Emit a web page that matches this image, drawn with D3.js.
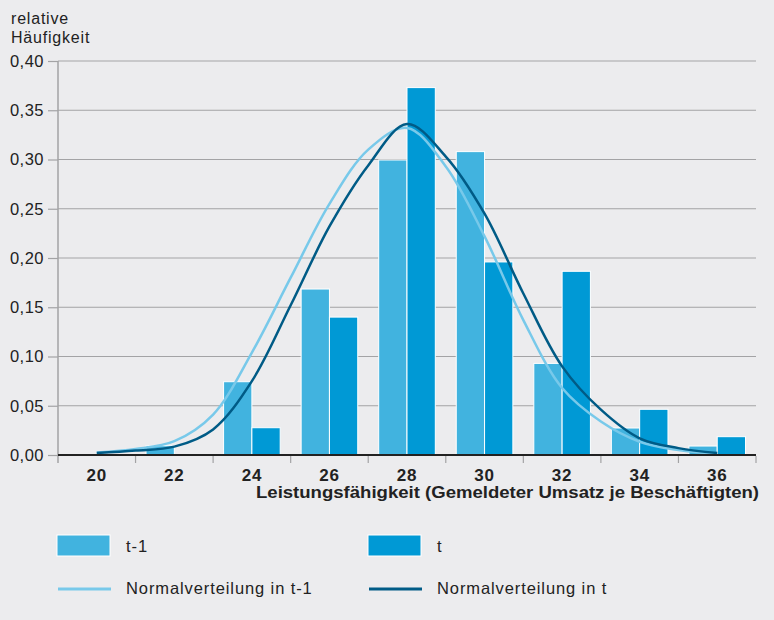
<!DOCTYPE html>
<html><head><meta charset="utf-8">
<script src="https://cdn.jsdelivr.net/npm/d3@7"></script>
<style>
html,body{margin:0;padding:0;background:#ececee;}
svg{display:block;font-family:"Liberation Sans",Arial,Helvetica,sans-serif;}
</style></head>
<body>
<svg id="c" width="774" height="620"></svg>
<script>
const categories = ["20","22","24","26","28","30","32","34","36"];
const seriesNames = ["t-1","t"];
const valuesPrev = [0, 0.0094, 0.0744, 0.1685, 0.2995, 0.308, 0.093, 0.0274, 0.0091];
const valuesCurr = [0, 0, 0.0277, 0.140, 0.373, 0.196, 0.1865, 0.0464, 0.0186];
const curveX = [20,21,22,23,24,25,26,27,28,29,30,31,32,33,34,35,36];
const normalPrev = [0.0025,0.006,0.014,0.041,0.104,0.180,0.255,0.310,0.332,0.293,0.222,0.137,0.068,0.034,0.0135,0.005,0.001];
const normalCurr = [0.002,0.0045,0.0085,0.026,0.075,0.152,0.232,0.294,0.336,0.303,0.245,0.164,0.090,0.046,0.017,0.007,0.002];
const yTicks = [0,0.05,0.10,0.15,0.20,0.25,0.30,0.35,0.40];
const yTickLabels = ["0,00","0,05","0,10","0,15","0,20","0,25","0,30","0,35","0,40"];
const yTitle = ["relative","Häufigkeit"];
const xTitle = "Leistungsfähigkeit (Gemeldeter Umsatz je Beschäftigten)";
const legendBars = ["t-1","t"];
const legendLines = ["Normalverteilung in t-1","Normalverteilung in t"];

const colPrev = "#41b3df", colCurr = "#0099d5", lnPrev = "#78c9ea", lnCurr = "#005b86";
const svg = d3.select("#c");
const L = 58, R = 756, T = 61, B = 455;

const x = d3.scaleBand().domain(categories).range([L, R]).padding(0);
const xs = d3.scaleBand().domain(seriesNames).range([0, x.bandwidth()]).paddingInner(0).paddingOuter(0.37);
const xl = d3.scaleLinear().domain([19, 37]).range([L, R]);
const y = d3.scaleLinear().domain([0, 0.4]).range([B, T]);

// gridlines
svg.append("g").selectAll("line").data(yTicks.filter(d => d > 0)).join("line")
  .attr("x1", L).attr("x2", R).attr("y1", d => y(d)).attr("y2", d => y(d))
  .attr("stroke", "#a3a3a5").attr("stroke-width", 1.2);

// y axis
const ya = svg.append("g").attr("transform", `translate(${L},0)`)
  .call(d3.axisLeft(y).tickValues(yTicks).tickFormat((d, i) => yTickLabels[i]).tickSize(10).tickPadding(4));
ya.select(".domain").remove();
ya.selectAll(".tick line").attr("stroke", "#a3a3a5").attr("stroke-width", 1.2);
ya.selectAll(".tick text").attr("font-size", 16.5).attr("fill", "#222")
  .attr("font-family", "Liberation Sans, Arial, sans-serif").attr("letter-spacing", 0.5);
svg.append("line").attr("x1", L).attr("x2", L).attr("y1", T).attr("y2", B + 8)
  .attr("stroke", "#a3a3a5").attr("stroke-width", 1.5);

// bars
const groups = svg.append("g").selectAll("g").data(categories).join("g")
  .attr("transform", d => `translate(${x(d)},0)`);
groups.each(function(c, i) {
  const data = [{s: "t-1", v: valuesPrev[i], col: colPrev}, {s: "t", v: valuesCurr[i], col: colCurr}].filter(d => d.v > 0);
  d3.select(this).selectAll("rect").data(data).join("rect")
    .attr("x", d => xs(d.s)).attr("width", xs.bandwidth())
    .attr("y", d => y(d.v)).attr("height", d => B - y(d.v))
    .attr("fill", d => d.col).attr("stroke", "#fff").attr("stroke-width", 1);
});

// curves
const line = d3.line().x((d, i) => xl(curveX[i])).y(d => y(d)).curve(d3.curveCatmullRom.alpha(0.5));
svg.append("path").attr("d", line(normalPrev)).attr("fill", "none").attr("stroke", lnPrev).attr("stroke-width", 2.5);
svg.append("path").attr("d", line(normalCurr)).attr("fill", "none").attr("stroke", lnCurr).attr("stroke-width", 2.5);

// x axis
svg.append("line").attr("x1", L).attr("x2", R).attr("y1", B).attr("y2", B).attr("stroke", "#222").attr("stroke-width", 2.2);
const bounds = categories.map(c => x(c)).concat([R]);
svg.append("g").selectAll("line").data(bounds.slice(1)).join("line")
  .attr("x1", d => d).attr("x2", d => d).attr("y1", B + 1).attr("y2", B + 8)
  .attr("stroke", "#a3a3a5").attr("stroke-width", 1.2);
svg.append("g").selectAll("text").data(categories).join("text")
  .attr("x", d => x(d) + x.bandwidth() / 2).attr("y", 481)
  .attr("text-anchor", "middle").attr("font-size", 17).attr("font-weight", "bold").attr("fill", "#222")
  .attr("letter-spacing", 0.8).text(d => d);
svg.append("text").attr("x", R + 3).attr("y", 498).attr("text-anchor", "end")
  .attr("font-size", 16).attr("font-weight", "bold").attr("fill", "#222")
  .attr("textLength", 503).attr("lengthAdjust", "spacingAndGlyphs").text(xTitle);

// y title
svg.append("g").selectAll("text").data(yTitle).join("text")
  .attr("x", 11).attr("y", (d, i) => 24 + i * 18.5)
  .attr("font-size", 16).attr("fill", "#222").attr("letter-spacing", 0.8).text(d => d);

// legend
const lgX = [57, 368];
legendBars.forEach((t, i) => {
  svg.append("rect").attr("x", lgX[i]).attr("y", 535).attr("width", 53).attr("height", 21)
    .attr("fill", i === 0 ? colPrev : colCurr).attr("stroke", "#fff").attr("stroke-width", 1);
  svg.append("text").attr("x", lgX[i] + 69).attr("y", 552).attr("font-size", 16.5).attr("fill", "#222")
    .attr("letter-spacing", 0.9).text(t);
});
legendLines.forEach((t, i) => {
  svg.append("line").attr("x1", lgX[i] + 1).attr("x2", lgX[i] + 54).attr("y1", 589).attr("y2", 589)
    .attr("stroke", i === 0 ? lnPrev : lnCurr).attr("stroke-width", 3);
  svg.append("text").attr("x", lgX[i] + 69).attr("y", 594).attr("font-size", 16.5).attr("fill", "#222")
    .attr("letter-spacing", 0.9).text(t);
});
</script>
</body></html>
